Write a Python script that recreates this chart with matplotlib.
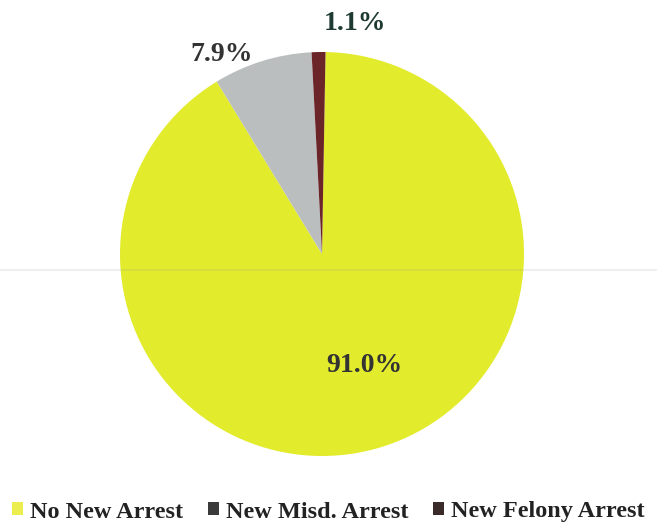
import matplotlib
matplotlib.use("Agg")
import matplotlib.pyplot as plt
from matplotlib.lines import Line2D
from matplotlib.patches import Patch

categories = ["No New Arrest", "New Misd. Arrest", "New Felony Arrest"]
values = [91.0, 7.9, 1.1]
labels = ["91.0%", "7.9%", "1.1%"]
colors = ["#E2EB2C", "#BABEBF", "#6B2428"]
legend_marker_colors = ["#ECEE50", "#3A3A3A", "#3A2A2A"]
label_colors = ["#333333", "#333333", "#1E3A32"]

W, H = 657, 529
fig = plt.figure(figsize=(W / 100, H / 100), dpi=100)
fig.patch.set_facecolor("white")

cx, cy, r = 322, 254, 202
ax = fig.add_axes([(cx - r) / W, (H - cy - r) / H, 2 * r / W, 2 * r / H])
wedges, _ = ax.pie(values, colors=colors, startangle=89, counterclock=False,
                   radius=1.0, wedgeprops=dict(linewidth=0))
ax.set_xlim(-1, 1)
ax.set_ylim(-1, 1)
ax.set_aspect("auto")
ax.axis("off")

font = "Liberation Serif"
label_pos = [(0.208, -0.554), (-0.495, 0.990), (0.163, 1.139)]
for (x, y), t, c in zip(label_pos, labels, label_colors):
    ax.text(x, y, t, ha="center", va="center", fontsize=20, fontweight="bold",
            color=c, family=font, clip_on=False)

handles = [Patch(facecolor=c, edgecolor="none") for c in legend_marker_colors]
leg = fig.legend(handles, categories, loc="center", bbox_to_anchor=(0.5, (H - 512) / H),
                 ncol=3, frameon=False, handlelength=0.45, handleheight=0.45,
                 handletextpad=0.3, columnspacing=1.0, borderpad=0, borderaxespad=0,
                 prop=dict(family=font, weight="bold", size=17.5))
for t in leg.get_texts():
    t.set_color("#222222")

# faint scan line across the image
fig.add_artist(Line2D([0, 1], [(H - 270) / H] * 2, transform=fig.transFigure,
                      color="#9a9a9a", alpha=0.15, linewidth=1.5))

fig.savefig("out.png", dpi=100)
